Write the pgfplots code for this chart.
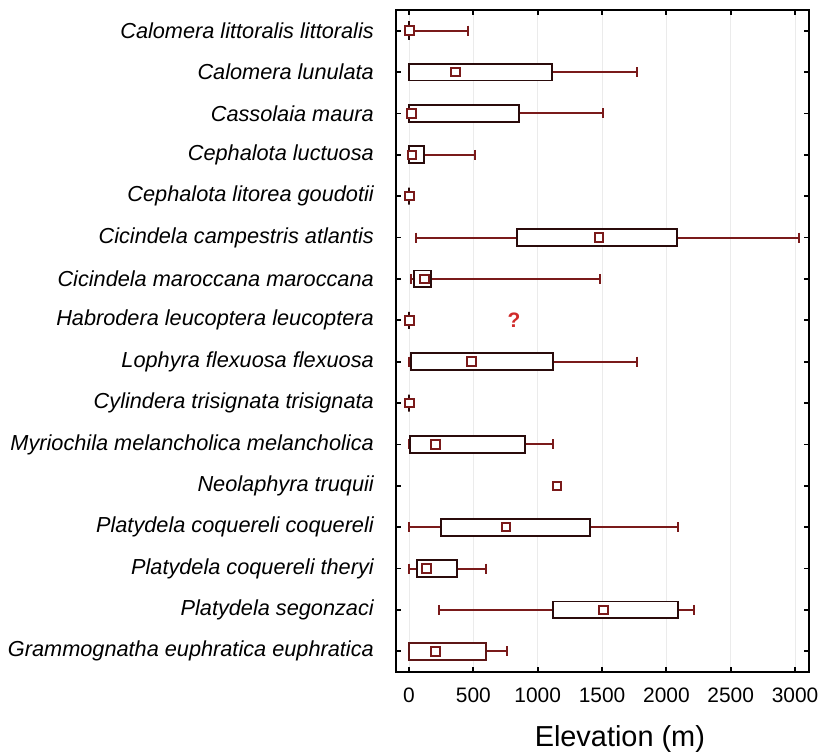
\documentclass[border=0pt]{standalone}
\usepackage{fontspec}
\setmainfont{Liberation Sans}
\usepackage{pgfplots}
\pgfplotsset{compat=1.18}
\usepgfplotslibrary{statistics}
\definecolor{wred}{RGB}{122,26,26}
\definecolor{boxc}{RGB}{42,11,11}
\definecolor{boxd}{RGB}{94,22,22}
\definecolor{qred}{RGB}{208,42,42}
\definecolor{gridc}{RGB}{235,235,235}
\begin{document}
\begin{tikzpicture}
\begin{axis}[
  name=ax, scale only axis, width=413bp, height=662bp,
  xmin=-101, xmax=3108, ymin=0.5, ymax=16.5, y dir=reverse,
  xtick={0,500,1000,1500,2000,2500,3000}, ytick={1,...,16},
  yticklabels={Calomera littoralis littoralis, Calomera lunulata, Cassolaia maura, Cephalota luctuosa\ , Cephalota litorea goudotii, Cicindela campestris atlantis, Cicindela maroccana maroccana, Habrodera leucoptera leucoptera, Lophyra flexuosa flexuosa, Cylindera trisignata trisignata, Myriochila melancholica melancholica, Neolaphyra truquii, Platydela coquereli coquereli, Platydela coquereli theryi, Platydela segonzaci, Grammognatha euphratica euphratica},
  yticklabel style={font=\fontsize{21.8}{24}\selectfont\itshape, inner sep=0pt, xshift=-22bp},
  xticklabel style={font=\fontsize{21}{24}\selectfont, inner sep=0pt, yshift=-16bp},
  /pgf/number format/assume math mode=true,
  /pgf/number format/1000 sep={},
  tick align=inside, xtick pos=both, ytick pos=both, major tick length=5bp,
  tick style={black, line width=1.8bp},
  axis line style={black, line width=2bp},
  xmajorgrids, grid style={gridc, line width=0.7bp},
  xlabel={Elevation (m)},
  xlabel style={font=\fontsize{29}{32}\selectfont, at={(axis description cs:0.542,0)}, anchor=base, yshift=-74.7bp, inner sep=0pt},
  boxplot/draw direction=x,
  boxplot/box extend=0.41, boxplot/whisker extend=0.24,
  boxplot/every box/.style={draw=boxc, line width=1.9bp, fill=white},
  boxplot/every whisker/.style={draw=wred, line width=1.9bp},
  boxplot/every median/.style={draw=none},
]
\addplot[boxplot prepared={lower whisker=0, lower quartile=0, median=2, upper quartile=4, upper whisker=460, draw position=1}] coordinates {};
\addplot[boxplot prepared={lower whisker=0, lower quartile=0, median=363, upper quartile=1109, upper whisker=1772, draw position=2}] coordinates {};
\addplot[boxplot prepared={lower whisker=0, lower quartile=0, median=21, upper quartile=855, upper whisker=1505, draw position=3}] coordinates {};
\addplot[boxplot prepared={lower whisker=0, lower quartile=0, median=23, upper quartile=119, upper whisker=510, draw position=4}] coordinates {};
\addplot[boxplot prepared={lower whisker=0, lower quartile=0, median=0, upper quartile=0, upper whisker=15, draw position=5}] coordinates {};
\addplot[boxplot prepared={lower whisker=54, lower quartile=842, median=1476, upper quartile=2085, upper whisker=3030, draw position=6}] coordinates {};
\addplot[boxplot prepared={lower whisker=13, lower quartile=41, median=122, upper quartile=174, upper whisker=1487, draw position=7}] coordinates {};
\addplot[boxplot prepared={lower whisker=0, lower quartile=0, median=0, upper quartile=0, upper whisker=10, draw position=8}] coordinates {};
\addplot[boxplot prepared={lower whisker=0, lower quartile=13, median=484, upper quartile=1119, upper whisker=1772, draw position=9}] coordinates {};
\addplot[boxplot prepared={lower whisker=0, lower quartile=0, median=0, upper quartile=0, upper whisker=10, draw position=10}] coordinates {};
\addplot[boxplot prepared={lower whisker=0, lower quartile=8, median=207, upper quartile=901, upper whisker=1119, draw position=11}] coordinates {};
\addplot[boxplot prepared={lower whisker=0, lower quartile=249, median=754, upper quartile=1406, upper whisker=2088, draw position=13}] coordinates {};
\addplot[boxplot prepared={lower whisker=0, lower quartile=60, median=137, upper quartile=370, upper whisker=601, draw position=14}] coordinates {};
\addplot[boxplot prepared={lower whisker=231, lower quartile=1122, median=1510, upper quartile=2090, upper whisker=2215, draw position=15}] coordinates {};
\addplot[boxplot prepared={lower whisker=0, lower quartile=0, median=207, upper quartile=598, upper whisker=759, draw position=16, every box/.style={draw=boxd, line width=1.9bp, fill=white}}] coordinates {};
\addplot[only marks, mark=square*, mark size=4.3bp, mark options={draw=wred, fill=white, line width=2bp}] coordinates {
(2,1) (363,2) (21,3) (23,4) (5,5) (1476,6) (122,7) (5,8) (484,9) (3,10) (207,11) (1150,12) (754,13) (137,14) (1510,15) (207,16)};
\node[text=qred, font=\fontsize{21}{24}\selectfont\bfseries] at (axis cs:816,8) {?};
\end{axis}
\pgfresetboundingbox
\path[use as bounding box] ([shift={(-396bp,-80bp)}]ax.south west) rectangle ([shift={(20bp,10bp)}]ax.north east);
\end{tikzpicture}
\end{document}
